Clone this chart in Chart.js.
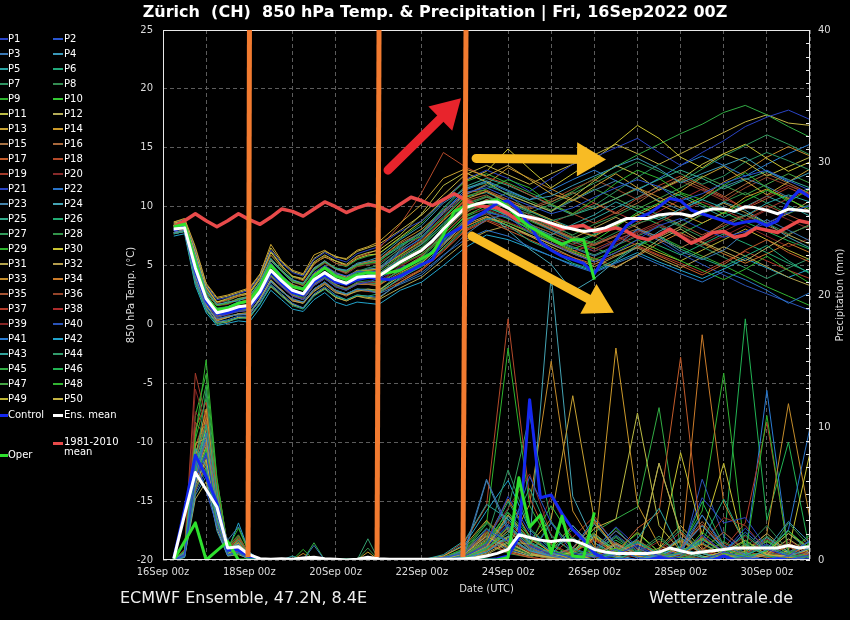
<!DOCTYPE html>
<html>
<head>
<meta charset="utf-8">
<title>Zürich 850 hPa Temp. & Precipitation</title>
<script src="https://cdn.jsdelivr.net/npm/chart.js@4.4.0/dist/chart.umd.min.js"></script>
<style>
html, body { margin: 0; padding: 0; background: #000; }
#wrap { position: relative; width: 850px; height: 620px; overflow: hidden; font-family: "DejaVu Sans", sans-serif; color: #fff; }
#c { position: absolute; left: 0; top: 0; }
.title { position: absolute; left: 0; top: 2px; width: 870px; text-align: center; font-weight: bold; font-size: 16px; line-height: 20px; white-space: pre; }
.foot { position: absolute; top: 588px; font-size: 16px; line-height: 20px; color: #eee; }
.lg { position: absolute; font-size: 10px; line-height: 12px; white-space: pre; color: #fff; }
.sw { position: absolute; }
</style>
</head>
<body>
<div id="wrap">
  <canvas id="c" width="850" height="620"></canvas>
  <div class="title">Zürich  (CH)  850 hPa Temp. &amp; Precipitation | Fri, 16Sep2022 00Z</div>
  <div id="legend"></div>
  <div class="foot" style="left:120px">ECMWF Ensemble, 47.2N, 8.4E</div>
  <div class="foot" style="right:57px">Wetterzentrale.de</div>
</div>
<script>
// forecast hours after 16Sep2022 00Z
const mainHours = [6,12,18,24,30,36,42,48,54,60,66,72,78,84,90,96,102,108,114,120,
  126,132,138,144,150,156,162,168,174,180,186,192,198,204,210,216,222,228,234,240,
  246,252,258,264,270,276,282,288,294,300,306,312,318,324,330,336,342,348,354,360];
const memberHours = [6,12,18,24,30,36,42,48,54,60,66,72,78,84,90,96,102,108,114,120,
  132,144,156,168,180,192,204,216,228,240,252,264,276,288,300,312,324,336,348,360];
const xTickLabels = ['16Sep 00z','','18Sep 00z','','20Sep 00z','','22Sep 00z','','24Sep 00z','',
  '26Sep 00z','','28Sep 00z','','30Sep 00z',''];

const climTemp = [8.3,8.8,9.4,8.8,8.3,8.8,9.4,8.9,8.5,9.1, 9.8,9.6,9.2,9.8,10.4,10.0,9.5,9.9,10.2,10.0,
  9.6,10.2,10.8,10.5,10.1,10.6,11.1,10.6,10.1,10.0, 9.9,9.4,8.8,9.1,8.9,8.5,8.1,8.3,8.4,7.9,
  8.0,8.2,7.9,7.4,7.2,7.6,8.1,7.5,6.9,7.3, 7.8,7.9,7.4,7.6,8.2,8.0,7.8,8.3,8.8,8.6];
const meanTemp = [8.1,8.2,4.8,2.2,1.0,1.2,1.5,1.6,2.8,4.6, 3.7,2.9,2.6,3.8,4.4,3.8,3.5,4.0,4.1,4.1,
  4.7,5.3,5.8,6.3,7.1,8.1,9.0,9.9,10.2,10.4, 10.4,9.9,9.3,9.1,8.9,8.6,8.3,8.1,7.9,8.0,
  8.2,8.6,9.0,9.0,9.0,9.3,9.4,9.4,9.2,9.6, 9.8,9.8,9.6,10.0,9.9,9.7,9.4,9.8,9.7,9.6];
const controlTemp = [8.0,8.3,4.6,2.0,0.9,1.0,1.3,1.5,2.6,4.5, 3.5,2.7,2.5,3.6,4.2,3.6,3.4,3.8,4.0,3.9,
  3.8,4.1,4.6,5.1,5.5,7.4,7.9,8.4,9.1,9.7, 10.3,10.5,9.7,8.4,7.0,6.3,5.8,5.5,5.2,4.3,
  5.8,7.2,8.4,9.0,9.4,10.0,10.7,10.5,9.7,9.4, 9.1,8.8,8.5,8.7,8.8,8.4,8.8,10.4,11.4,10.8];
const operTemp = [8.3,8.5,5.2,2.3,1.2,1.4,1.8,2.0,3.2,5.0, 4.0,3.2,3.0,4.1,4.8,4.1,3.8,4.2,4.4,4.3,
  4.4,4.6,5.1,5.6,6.1,7.6,9.6,10.0,10.2,10.4, 10.6,10.0,9.0,8.3,7.8,7.3,6.8,7.2,7.2,3.8];

const meanPrecip = [0.1,3.4,6.6,5.3,4.0,0.9,1.0,0.4,0.1,0.05, 0.1,0.05,0.15,0.2,0.1,0.05,0,0.05,0.2,0.1,
  0.05,0.05,0.05,0.05,0.05,0.05,0.05,0.1,0.15,0.3, 0.5,0.8,1.9,1.7,1.5,1.4,1.5,1.5,1.2,0.8,
  0.6,0.5,0.5,0.5,0.5,0.6,0.9,0.7,0.5,0.6, 0.7,0.8,0.9,0.9,0.9,0.9,0.9,1.1,0.9,1.0];
const controlPrecip = [0.1,3.8,7.9,6.3,4.3,0.8,0.75,0.3,0,0, 0,0,0,0,0,0,0,0,0,0,
  0,0,0,0,0,0,0,0,0,0, 0.1,0.3,1.7,12.1,4.7,4.9,3.5,2.3,1.5,0.5,
  0.1,0,0,0,0,0.2,0,0,0,0, 0,0.3,0,0,0,0,0.1,0,0,0];
const operPrecip = [0,1.4,2.8,0,0.7,1.4,0,0,0,0, 0,0,0,0,0,0,0,0,0,0,
  0,0,0,0,0,0,0,0,0,0, 0,0.2,6.2,2.5,3.4,0.5,3.3,0.3,0.2,3.6];

const memberNames = Array.from({length: 50}, (_, i) => 'P' + (i + 1));
const memberColors = [
  '#2a44c8','#2a56d0','#3a78b4','#3a98b8','#2aa4a4','#22aa7c','#2e9462','#348c52','#2eb42e','#34c834',
  '#bcbc44','#b4ac58','#c8a232','#cc9a2a','#a87244','#a8683c','#c45c2a','#b44a2a','#a43a2a','#862a2a',
  '#2a44c4','#2a74c8','#4484ac','#44a4b4','#32ac8c','#22ac74','#329c5c','#32944a','#2eb42e','#cac432',
  '#b4a44c','#b49c4c','#c48c2a','#cc7c2a','#a85434','#94442a','#b43c2a','#ac2c2c','#862424','#2a54b8',
  '#2a7cd4','#22a4cc','#32a49c','#329c6c','#32ac44','#22b454','#44a444','#32b432','#bcb432','#c4b444'];

// one row per member, values at memberHours
const memberTemp = [
  [8.0,8.2,4.3,1.8,0.6,0.9,1.1,1.2,2.4,4.0,3.2,2.4,2.1,3.3,3.9,3.2,2.9,3.4,3.6,3.9, 4.8,5.6,7.0,8.6,9.5,9.1,7.8,6.9,6.0,5.3,6.1,7.2,8.4,9.0,8.1,7.4,7.9,8.6,9.5,10.1],
  [8.3,8.5,5.3,2.6,1.2,1.5,1.9,2.0,3.3,5.2,4.2,3.3,3.1,4.4,5.0,4.4,4.1,4.5,4.4,4.6, 6.1,7.4,9.6,11.2,11.6,10.8,10.1,9.4,9.9,10.8,11.6,12.3,11.7,10.5,11.1,12.0,12.6,13.1,12.2,11.4],
  [7.8,8.0,3.9,1.5,0.5,0.7,0.8,0.9,2.0,3.6,2.8,2.2,1.9,3.0,3.6,2.9,2.6,3.0,2.9,2.6, 3.4,4.2,5.8,7.6,8.9,9.4,8.6,7.3,6.5,5.8,6.6,8.1,7.4,6.2,5.5,6.3,7.8,8.9,8.0,7.1],
  [8.4,8.6,5.8,2.9,1.7,1.9,2.0,2.4,3.6,5.6,4.6,3.8,3.5,4.8,5.4,4.7,4.6,5.2,5.4,5.7, 7.2,8.4,10.3,11.5,12.2,11.4,10.6,10.9,11.8,12.6,13.4,14.1,13.2,12.0,12.8,13.5,14.2,13.0,12.1,12.9],
  [8.1,8.3,4.7,2.1,1.1,1.3,1.4,1.7,2.9,4.5,3.8,2.8,2.7,3.7,4.5,3.9,3.4,4.1,4.2,4.3, 5.6,6.8,8.6,10.3,10.0,9.2,8.4,7.6,8.5,9.3,10.4,9.6,8.9,9.8,10.6,9.9,9.2,10.3,11.0,10.4],
  [7.7,7.9,3.5,1.2,0.0,0.3,0.5,0.6,1.7,3.3,2.4,1.6,1.3,2.4,3.0,2.4,2.1,2.5,2.4,2.6, 4.0,4.9,6.4,8.1,9.0,8.4,7.1,6.3,5.2,4.6,5.5,6.8,7.5,6.4,5.6,4.9,5.8,6.7,5.4,4.3],
  [8.3,8.4,5.1,2.4,1.4,1.5,1.7,2.0,3.1,5.0,4.0,3.2,3.0,4.2,4.8,4.2,3.9,4.5,4.8,5.0, 6.5,7.9,9.8,11.6,12.0,11.0,9.6,8.8,9.3,10.1,11.3,12.5,13.6,12.8,11.9,12.6,13.8,14.6,13.9,13.1],
  [8.0,8.2,4.5,1.9,0.8,0.9,1.2,1.3,2.6,4.2,3.4,2.6,2.3,3.5,4.0,3.3,3.0,3.6,3.7,3.6, 4.5,5.7,7.8,9.6,10.3,9.9,9.4,8.6,7.5,6.9,7.8,8.6,9.1,8.3,7.4,8.2,9.3,8.6,7.7,8.4],
  [8.4,8.7,5.7,2.8,1.6,1.8,2.1,2.3,3.5,5.6,4.5,3.7,3.4,4.6,5.3,4.8,4.5,5.0,5.2,5.3, 6.8,7.5,9.0,10.8,11.5,12.3,11.6,10.2,9.4,10.6,12.0,13.1,12.4,11.2,10.6,11.8,12.9,11.6,10.4,11.5],
  [8.1,8.3,4.9,2.3,0.9,1.1,1.5,1.6,2.7,4.7,3.6,2.9,2.5,3.9,4.3,3.7,3.6,3.9,4.0,4.0, 5.1,6.0,7.4,9.2,10.1,9.3,8.0,7.2,6.4,7.1,8.3,9.5,10.3,11.1,10.2,9.4,10.5,11.4,10.6,9.8],
  [8.6,8.8,6.1,3.2,1.9,2.2,2.5,2.7,4.0,6.1,5.0,4.1,3.9,5.3,5.9,5.4,5.1,5.8,6.1,6.3, 7.6,9.4,11.8,12.9,12.1,11.0,10.3,9.6,10.8,12.2,13.5,12.7,11.4,12.3,13.6,14.5,13.8,12.6,13.4,14.2],
  [7.8,8.0,4.0,1.7,0.3,0.6,0.9,0.8,2.2,3.8,2.9,2.0,1.8,2.8,3.4,2.7,2.5,2.8,3.0,2.9, 4.1,5.2,6.9,8.5,9.2,8.4,7.6,6.8,6.1,5.4,4.8,5.9,7.2,8.1,7.0,6.2,5.4,6.5,7.6,6.8],
  [8.7,9.0,6.6,3.5,2.3,2.5,2.8,3.1,4.3,6.8,5.4,4.6,4.3,5.9,6.3,5.7,5.6,6.3,6.6,7.0, 8.6,10.2,12.4,13.2,12.6,13.5,12.3,11.1,10.5,11.7,12.8,11.6,10.4,11.3,12.5,13.4,12.2,11.0,12.1,13.2],
  [8.2,8.5,5.2,2.6,1.3,1.4,1.9,2.1,3.3,5.2,4.1,3.4,3.1,4.3,4.9,4.4,4.0,4.6,4.6,4.7, 5.9,7.1,8.8,10.6,11.3,10.4,9.7,8.9,8.0,7.5,8.4,9.3,10.2,9.4,8.6,9.5,10.8,11.5,10.7,9.6],
  [8.0,8.2,4.4,1.9,0.7,0.9,1.3,1.2,2.5,4.1,3.3,2.5,2.1,3.4,4.0,3.4,3.0,3.5,3.4,3.3, 4.7,5.8,7.6,9.4,10.6,10.2,9.0,8.1,7.3,6.7,7.5,8.1,7.2,6.5,7.4,8.6,9.3,8.4,7.6,8.5],
  [8.4,8.6,5.6,2.8,1.6,1.9,2.1,2.3,3.4,5.5,4.6,3.7,3.3,4.8,5.3,4.7,4.4,5.0,5.3,5.5, 6.9,7.8,9.5,11.2,11.4,10.6,9.8,10.4,11.2,10.3,9.4,10.3,11.5,12.4,11.6,10.8,11.9,12.8,12.0,11.1],
  [7.8,8.0,3.8,1.6,0.4,0.6,0.9,0.9,2.1,3.6,2.9,2.1,1.8,2.9,3.5,2.8,2.4,2.9,2.8,2.7, 3.6,4.6,6.2,7.9,8.8,8.0,7.2,6.4,5.7,5.1,5.9,6.6,5.8,5.0,4.2,5.1,6.3,7.2,6.1,5.3],
  [8.6,8.8,6.0,3.1,1.8,2.1,2.4,2.7,3.9,5.9,4.9,4.1,3.7,5.1,5.8,5.2,5.0,5.7,6.0,6.4, 8.5,11.2,14.6,13.4,12.5,11.9,11.0,10.2,9.4,8.6,9.5,10.7,11.8,12.6,11.8,10.9,9.8,10.7,11.6,10.8],
  [8.1,8.3,4.8,2.2,1.0,1.2,1.6,1.5,2.8,4.6,3.7,2.9,2.6,3.8,4.4,3.8,3.5,4.0,4.2,4.2, 5.4,6.4,8.0,9.6,10.1,9.4,8.5,7.8,7.0,6.4,7.2,7.9,8.7,9.6,10.4,9.7,8.9,9.8,10.7,11.4],
  [8.0,8.1,4.4,1.8,0.7,0.8,1.2,1.3,2.4,4.1,3.2,2.4,2.2,3.3,3.9,3.3,3.1,3.5,3.5,3.6, 5.0,5.9,7.3,8.8,9.4,8.7,8.0,7.4,6.8,6.2,7.0,7.8,8.5,7.7,7.0,7.9,8.8,9.7,8.9,8.1],
  [8.6,8.9,6.3,3.3,2.1,2.3,2.6,2.9,4.1,6.3,5.2,4.4,4.1,5.5,6.1,5.6,5.3,6.0,6.3,6.6, 7.9,8.8,10.4,12.3,13.1,12.4,11.3,12.4,13.6,14.2,15.0,15.8,14.6,13.5,14.6,15.6,16.8,17.6,18.2,17.4],
  [7.7,7.9,3.7,1.4,0.2,0.4,0.7,0.7,1.8,3.4,2.6,1.8,1.4,2.6,3.2,2.5,2.1,2.5,2.4,2.3, 3.5,4.4,5.9,7.2,8.0,7.5,6.6,5.8,5.0,4.4,5.2,5.9,5.1,4.3,3.6,4.5,3.8,2.9,1.8,2.7],
  [8.3,8.4,5.3,2.5,1.2,1.5,1.8,1.9,3.2,5.1,4.0,3.3,3.0,4.2,4.9,4.3,4.1,4.5,4.7,4.8, 6.3,7.7,9.4,11.0,11.8,11.1,10.3,9.6,10.5,11.4,12.2,11.4,10.5,9.7,10.6,11.7,12.4,11.7,10.8,11.6],
  [7.8,8.0,4.1,1.6,0.4,0.7,0.9,0.9,2.2,3.7,2.9,2.1,1.9,3.0,3.6,2.8,2.6,3.0,2.9,2.7, 3.9,5.0,6.7,8.8,9.6,8.0,6.4,5.1,2.8,3.9,5.4,6.6,7.9,8.8,9.5,10.4,9.7,8.6,7.4,6.5],
  [8.4,8.6,5.5,2.9,1.7,1.8,2.2,2.3,3.5,5.4,4.5,3.6,3.4,4.7,5.3,4.8,4.4,5.1,5.2,5.4, 6.6,7.8,9.9,11.7,12.4,11.8,11.0,10.1,9.3,9.9,10.7,11.5,12.3,13.1,12.4,11.5,12.3,13.0,12.3,11.6],
  [8.0,8.2,4.3,1.9,0.8,1.0,1.2,1.4,2.5,4.2,3.3,2.6,2.2,3.4,4.0,3.4,3.0,3.5,3.5,3.5, 4.6,5.5,7.1,8.9,9.6,9.0,8.2,7.5,6.8,7.6,8.4,7.5,6.7,5.9,6.8,7.7,6.9,6.1,5.2,4.4],
  [8.2,8.3,4.8,2.1,1.0,1.3,1.5,1.7,2.8,4.7,3.6,2.9,2.7,3.8,4.3,3.9,3.5,4.0,4.1,4.2, 5.5,6.6,8.4,10.1,10.8,10.3,9.5,10.2,11.1,12.0,12.9,13.8,13.0,12.1,13.2,14.3,15.2,16.1,15.3,14.4],
  [8.3,8.5,5.1,2.5,1.3,1.5,1.8,2.0,3.1,5.0,4.1,3.2,2.9,4.2,4.8,4.2,3.9,4.4,4.6,4.7, 5.9,7.0,8.5,10.2,10.9,10.2,9.1,8.3,7.6,8.5,9.2,10.1,9.3,8.4,9.3,10.4,11.2,10.3,9.4,10.2],
  [7.8,8.1,4.0,1.5,0.4,0.6,0.9,1.0,2.1,3.7,2.8,2.1,1.8,2.9,3.5,2.9,2.6,2.9,2.9,2.8, 4.2,5.3,7.0,8.7,9.4,8.6,7.8,7.1,6.2,5.5,6.3,7.2,6.3,5.4,4.6,3.8,4.7,5.8,4.6,3.5],
  [8.5,8.8,6.2,3.2,1.9,2.1,2.4,2.6,3.9,6.2,5.0,4.1,3.8,5.2,5.7,5.4,5.0,5.6,5.9,6.0, 7.4,8.8,10.6,12.2,13.0,14.9,13.2,11.6,12.8,14.0,15.4,16.9,15.8,14.2,13.3,14.5,15.3,14.1,13.0,13.8],
  [7.7,7.9,3.6,1.3,0.1,0.2,0.6,0.5,1.8,3.2,2.4,1.7,1.4,2.5,3.0,2.3,2.0,2.4,2.2,2.1, 3.1,4.0,5.5,7.0,7.9,8.4,7.5,6.6,5.7,4.9,5.8,6.5,5.6,4.8,5.7,6.6,5.8,4.9,4.0,3.3],
  [8.1,8.3,4.9,2.2,1.1,1.2,1.4,1.6,2.9,4.6,3.7,3.0,2.6,3.8,4.4,3.7,3.5,4.0,4.1,4.0, 5.2,6.2,7.9,9.8,10.6,9.8,8.9,8.1,7.3,8.2,9.1,8.2,7.4,8.3,9.4,10.3,9.5,8.6,9.4,10.5],
  [8.4,8.6,5.7,2.8,1.6,1.8,2.2,2.4,3.6,5.5,4.6,3.7,3.5,4.7,5.4,4.8,4.5,5.1,5.3,5.5, 7.0,8.1,9.7,11.0,11.9,13.3,12.4,11.5,10.6,9.8,10.7,11.6,10.8,9.9,10.8,12.1,13.0,14.2,15.1,14.3],
  [8.0,8.1,4.4,1.8,0.6,0.9,1.1,1.2,2.5,4.1,3.2,2.5,2.1,3.3,3.9,3.2,2.9,3.4,3.4,3.3, 4.4,5.3,6.8,8.3,9.1,8.6,7.9,7.1,6.3,5.6,4.9,5.8,6.9,7.8,6.9,6.0,5.2,6.0,6.9,6.1],
  [8.1,8.4,4.7,2.3,1.0,1.1,1.6,1.7,2.8,4.5,3.8,2.8,2.6,3.7,4.5,3.9,3.4,3.9,4.2,4.3, 5.7,6.9,8.9,10.5,11.0,10.0,9.0,8.2,7.4,6.8,7.6,8.5,9.3,8.5,7.6,8.4,9.2,10.1,9.3,8.5],
  [8.4,8.7,5.6,2.7,1.6,1.7,2.1,2.2,3.5,5.4,4.5,3.6,3.3,4.6,5.2,4.7,4.3,4.9,5.1,5.2, 6.4,7.5,9.2,10.9,11.3,10.5,9.9,10.6,11.5,12.3,11.5,10.6,11.4,12.2,11.4,10.5,11.6,12.5,11.8,11.0],
  [7.8,8.0,3.9,1.6,0.5,0.6,0.9,1.0,2.1,3.7,2.9,2.0,1.8,3.0,3.5,2.9,2.5,2.9,2.9,2.8, 3.8,4.7,6.3,8.0,8.9,8.2,7.5,6.9,6.2,6.8,7.5,6.7,5.9,5.2,4.4,5.3,6.2,5.4,4.6,3.9],
  [8.3,8.5,5.2,2.5,1.3,1.5,1.8,1.9,3.2,5.1,4.1,3.3,3.0,4.3,4.8,4.3,4.0,4.5,4.6,4.6, 6.0,7.2,8.9,10.4,10.8,10.1,9.3,8.6,9.4,10.3,9.5,8.7,9.6,10.6,11.5,10.7,9.9,10.9,11.8,11.1],
  [8.0,8.2,4.5,1.9,0.7,0.9,1.2,1.3,2.4,4.2,3.3,2.5,2.3,3.4,4.0,3.3,3.1,3.5,3.6,3.5, 4.9,6.0,7.7,9.3,9.8,9.1,8.3,7.6,8.3,7.5,6.8,7.6,8.4,7.6,6.7,7.5,8.4,7.5,6.6,7.3],
  [8.1,8.3,4.8,2.2,1.0,1.2,1.5,1.6,2.7,4.6,3.7,2.9,2.6,3.8,4.4,3.8,3.6,4.1,4.0,4.1, 5.3,6.3,8.2,9.9,10.5,9.8,8.9,8.0,7.1,6.2,7.1,8.0,7.1,6.0,5.1,4.2,3.3,2.6,1.9,1.2],
  [8.4,8.6,5.6,2.8,1.7,1.8,2.1,2.3,3.6,5.5,4.6,3.8,3.4,4.7,5.3,4.8,4.6,5.1,5.3,5.5, 6.7,7.9,9.6,11.4,12.1,11.3,10.6,11.4,12.3,13.1,12.2,11.4,12.4,13.5,14.3,13.5,12.6,13.6,14.5,15.3],
  [7.5,7.7,3.3,1.0,-0.1,0.1,0.3,0.2,1.4,2.9,2.1,1.3,1.1,2.1,2.7,1.9,1.6,1.9,1.8,1.7, 2.9,3.6,5.0,6.5,7.6,7.2,6.5,5.8,5.1,4.5,5.3,6.1,5.3,4.6,3.9,4.7,5.6,4.8,4.0,4.7],
  [8.3,8.4,5.2,2.5,1.3,1.5,1.8,1.9,3.1,5.0,4.1,3.2,3.0,4.2,4.9,4.2,4.0,4.4,4.6,4.7, 6.2,7.3,9.1,10.8,11.2,10.4,9.6,8.9,8.2,9.0,9.9,10.8,11.7,10.9,10.0,9.1,10.0,10.9,10.1,9.2],
  [7.8,8.0,4.1,1.6,0.4,0.6,0.9,1.0,2.2,3.7,2.9,2.1,1.9,3.0,3.6,2.9,2.6,3.0,3.0,2.9, 4.3,5.4,7.2,8.9,9.7,9.0,8.1,7.3,6.6,5.9,6.7,7.5,8.3,7.4,6.6,5.7,4.8,3.9,4.8,5.6],
  [8.5,8.7,6.0,3.0,1.9,2.0,2.4,2.6,3.8,5.9,4.8,4.0,3.8,5.1,5.8,5.2,4.9,5.5,5.8,6.0, 7.3,8.6,10.5,12.1,12.8,12.0,11.2,10.4,11.3,12.4,13.4,14.4,15.3,16.2,17.0,18.0,18.6,17.8,16.8,15.9],
  [8.0,8.2,4.4,1.9,0.7,1.0,1.2,1.3,2.5,4.1,3.3,2.5,2.2,3.4,3.9,3.3,3.1,3.4,3.5,3.4, 4.6,5.7,7.4,9.1,9.9,9.3,8.5,7.8,7.0,7.7,8.5,9.3,8.5,7.7,8.6,9.5,8.7,7.9,7.1,6.4],
  [8.1,8.3,4.8,2.2,1.0,1.3,1.4,1.7,2.8,4.7,3.7,2.8,2.6,3.8,4.4,3.8,3.5,4.1,4.1,4.2, 5.5,6.5,8.0,9.7,10.4,11.2,10.5,9.7,10.6,11.5,10.7,9.8,10.7,11.6,12.6,11.8,11.0,11.9,12.8,12.0],
  [8.2,8.4,5.1,2.4,1.2,1.4,1.8,1.9,3.1,5.0,4.0,3.3,2.9,4.1,4.8,4.2,3.9,4.4,4.5,4.5, 5.8,6.8,8.3,9.8,10.3,9.6,8.8,8.0,7.2,6.5,5.8,6.6,7.5,6.6,5.8,5.0,4.1,3.2,2.4,1.6],
  [7.7,7.9,3.6,1.3,0.2,0.3,0.6,0.6,1.8,3.3,2.5,1.7,1.4,2.5,3.1,2.3,2.0,2.4,2.3,2.2, 3.6,4.7,6.5,8.3,9.1,8.4,7.6,6.8,6.0,5.3,6.1,6.9,6.1,5.4,6.3,7.2,8.1,7.2,6.3,5.5],
  [8.7,8.9,6.4,3.4,2.2,2.4,2.7,3.0,4.2,6.5,5.3,4.5,4.2,5.6,6.2,5.8,5.5,6.2,6.5,6.8, 8.0,9.3,11.0,12.7,13.5,12.7,11.9,12.8,13.6,14.4,15.3,14.5,13.6,14.5,15.4,16.3,17.2,17.8,17.1,16.9]
];

const memberPrecip = [
  [0,0.4,6.2,8.1,3.4,0.6,0.9,0.2,0,0,0,0,0,0,0,0,0,0,0,0, 0,0,0,0.3,1.2,4.8,2.1,0.6,0.2,0,0.4,1.1,0.3,0,0,0.6,2.4,0.8,0.3,1.5],
  [0,0.3,7.5,5.2,2.6,0.4,0.6,0.1,0,0,0,0,0,0,0,0,0,0,0,0, 0,0,0.2,0.5,2.3,1.4,6.3,2.8,0.5,0.2,0.8,0.2,0,0.3,1.9,0.6,0.2,0,0,0.4],
  [0,0.5,5.8,9.6,4.1,0.8,1.2,0.3,0,0,0,0,0,1.1,0,0,0,0,0,0, 0,0,0,0.8,6.1,2.5,1.0,0.3,0,0.6,2.2,0.9,0.2,0.5,3.4,1.1,0.4,0,0.3,0.9],
  [0,0.2,4.9,6.3,2.2,0.3,0.5,0,0,0,0,0,0,0,0,0,0,0,0,0, 0,0,0,0.1,0.6,1.8,0.7,0.3,2.6,0.9,0.2,0,0.4,1.7,0.5,0,0,0.8,2.9,1.3],
  [0,0.6,8.4,7.1,3.0,1.0,0.7,0.2,0,0,0,0.3,0,0,0,0,0,0,0.2,0, 0,0,0.4,1.5,4.2,3.1,1.3,0.5,0.2,0,0.5,1.6,3.9,0.7,0.2,0,0.4,1.0,0.3,0],
  [0,0.3,6.6,10.2,5.3,0.5,1.5,0.4,0,0,0,0,0,0,0,0,0,0,0,0, 0,0,0,0.2,0.9,2.0,5.4,1.8,0.6,0.3,0,0.7,0.2,0.5,1.4,4.6,1.2,0.3,0,0],
  [0,0.4,7.0,12.8,4.6,0.7,1.1,0.2,0,0,0,0,0,0,0,0,0,0,0,0, 0,0,0,0.4,1.6,6.8,2.4,0.9,1.7,0.5,0.2,0,0.8,2.3,0.6,0,0.3,1.1,0.4,0.2],
  [0,0.2,5.4,6.8,2.9,0.4,0.6,0.1,0,0,0,0,0,0,0,0,0,0,0,0, 0,0,0.2,0.6,2.8,1.1,0.4,2.9,0.8,0.3,0.1,0.6,1.8,0.4,0,0.2,0.9,2.6,0.7,0.2],
  [0,0.7,9.3,15.1,6.2,0.9,2.4,0.5,0,0,0,0,0.8,0,0,0,0,0,0,0, 0,0,0,0.3,1.4,3.6,1.8,0.7,0.3,0,0.6,1.4,0.5,0.2,2.1,0.8,0.3,10.9,0.5,1.2],
  [0,0.3,6.1,8.4,3.6,0.6,0.8,0.2,0,0,0,0,0,0,0,0,0,0,0,0, 0,0,0,0.2,0.8,2.5,1.2,4.1,1.5,0.4,0.9,0.2,0,0.6,1.6,0.5,0.2,0.7,2.2,0.8],
  [0,0.4,5.7,7.6,3.3,0.5,0.9,0.2,0,0,0,0,0,0,0,0,0,0,0,0, 0,0,0,0.5,1.8,0.9,0.4,0.2,0.6,2.4,3.1,11.1,2.6,0.7,0.2,0.6,1.5,0.4,0.3,0.8],
  [0,0.2,4.6,5.9,2.4,0.3,0.4,0.1,0,0,0,0,0,0,0,0,0,0,0,0, 0,0,0,0.1,0.4,1.3,0.5,0.2,0,0.3,1.2,0.4,7.3,2.0,0.5,0.2,0,0.4,1.6,0.5],
  [0,0.5,8.8,9.2,4.3,0.8,1.3,0.3,0,0,0,0,0,0,0,0,0,0,0.6,0, 0,0,0.3,1.1,3.0,1.4,1.2,3.1,12.4,3.0,0.8,0.3,0,0.5,1.2,0.4,0,0.6,2.0,0.9],
  [0,0.4,7.8,11.4,5.1,0.6,1.0,0.2,0,0,0,0,0,0,0,0,0,0,0,0, 0,0,0,0.2,1.0,3.4,1.6,0.6,0,0.5,16.0,4.2,1.1,0.4,0,0.3,1.0,0.4,0.2,0],
  [0,0.3,6.4,8.9,3.8,0.5,0.8,0.2,0,0,0,0,0,0,0,0,0,0,0,0, 0,0,0,0.3,0.7,2.2,0.9,0.3,0.9,2.8,1.0,0.2,0,0.6,1.7,0.5,0.1,0.5,1.3,0.4],
  [0,0.4,7.3,10.5,4.4,0.7,1.2,0.3,0,0,0,0,0,0,0,0,0,0,0,0, 0,0,0.2,0.6,1.9,1.0,0.4,0.1,0,0.4,1.3,0.5,0.2,0.9,2.9,1.0,0.3,0,0.4,1.1],
  [0,0.3,5.2,7.4,2.8,0.4,0.7,0.1,0,0,0,0,0,0,0,0,0,0,0,0, 0,0,0,0.4,1.2,0.6,0.2,0,0.5,1.6,0.5,2.4,3.6,15.3,0.9,0.3,0,0.4,1.0,0.3],
  [0,0.6,9.9,11.9,5.6,0.9,1.6,0.4,0,0,0,0,0,0,0,0,0,0,0,0, 0,0,0.3,1.4,4.1,18.2,4.7,1.2,0.4,0,0.6,1.5,0.5,0.2,0.8,2.1,0.7,0.2,0,0.5],
  [0,0.8,14.1,10.7,5.8,1.1,1.8,0.4,0,0,0,0,0,0,0,0,0,0,0,0, 0,0,0,0.2,0.8,1.5,0.6,0.2,0,0.3,0.9,0.3,0,0.4,1.2,3.2,2.6,0.7,0.2,0],
  [0,0.5,11.2,9.8,4.9,0.8,1.4,0.3,0,0,0,0,0,0,0,0,0,0,0,0, 0,0,0.2,0.6,1.7,3.9,6.5,1.9,0.6,0.2,0,0.5,1.4,0.4,0.1,0.6,1.8,0.5,0.2,0.7],
  [0,0.3,5.6,7.9,3.2,0.5,0.7,0.2,0,0,0,0,0,0,0,0,0,0,0,0, 0,0,0,0.3,1.0,2.6,1.1,0.4,0.1,0.8,2.5,1.0,0.3,0.7,4.7,2.8,3.2,0.9,0.3,0.6],
  [0,0.4,6.9,9.1,4.0,0.6,1.0,0.2,0,0,0,0,0,0,0,0,0,0,0,0, 0,0,0,0.2,0.6,1.6,0.7,0.2,0.9,3.1,1.2,0.4,0.1,0.5,1.5,0.6,2.1,0.7,2.3,10.0],
  [0,0.5,7.7,8.7,3.9,1.5,2.5,0.6,0,0,0,0,0,0,0,0,0,0,0,0, 0,0,0.1,0.5,6.0,2.2,0.8,0.3,0,0.4,1.1,0.4,0.2,0.8,2.6,0.9,0.3,0,0.6,1.4],
  [0,0.3,5.9,7.2,3.1,0.4,0.6,0.1,0,0,0,0,0,0,0,0,0,0,0.1,0, 0,0,0,0.2,0.9,3.3,1.3,21.5,4.8,1.3,0.4,0,0.3,1.0,0.3,0,0.5,1.7,0.6,0.2],
  [0,0.4,7.1,9.5,4.2,0.7,1.1,0.3,0,0,0,0,0,0,0,0,0,0,0,0, 0,0,0.2,0.7,2.4,1.0,0.4,0.1,0.6,1.9,0.7,0.2,0,0.5,1.3,0.4,0.1,0.6,2.0,0.7],
  [0,0.5,8.1,10.3,4.7,0.8,1.4,0.3,0,0,0,0,0,0,0,0,0,0,0,0, 0,0,0,0.4,1.3,4.4,1.7,0.6,0.2,0,0.6,1.5,0.5,0.2,0,0.7,1.9,0.6,0.2,0.9],
  [0,0.4,6.5,8.2,3.5,0.5,0.9,0.2,0,0,0,0,0,0,0,0,0,0,0,0, 0,0,0,0.3,1.1,3.8,10.9,2.9,0.8,0.2,0,0.5,1.6,0.5,0.1,0.4,1.2,0.4,0,0.3],
  [0,0.3,5.3,6.9,2.7,0.4,0.6,0.1,0,0,0,0,0,0,0,0,0,0,0.9,0, 0,0,0.1,0.3,0.9,2.2,0.9,0.3,0.1,0.6,1.8,0.6,0.2,0,0.5,1.4,0.5,0.2,2.8,1.0],
  [0,0.6,9.1,12.2,5.4,0.9,1.7,0.4,0,0,0,0,0,0,0,0,0,0,0,0, 0,0,0.2,0.8,2.7,16.0,4.1,1.1,0.3,0,0.7,2.0,0.6,0.2,0,0.5,1.4,0.4,0.1,0.6],
  [0,0.4,6.8,9.9,4.5,0.7,1.3,0.3,0,0,0,0,0,0,0,0,0,0,0,0, 0,0,0,0.2,0.7,1.8,0.7,0.2,0.5,1.7,0.6,2.1,0.6,8.1,1.9,7.3,0.5,0.2,0.7,8.1],
  [0,0.3,5.5,7.0,3.0,0.4,0.7,0.1,0,0,0,0,0,0,0,0,0,0,0,0, 0,0,0,0.1,0.5,1.4,0.5,0.2,0,0.4,1.3,0.4,0.1,0.5,1.6,0.6,0.2,0,0.4,1.1],
  [0,0.4,6.3,8.6,3.7,0.6,0.9,0.2,0,0,0,0,0,0,0,0,0,0,0,0, 0,0,0.2,0.5,1.6,0.7,0.3,0.9,2.6,0.8,0.3,0,0.5,1.5,0.5,0.2,0.7,2.0,0.6,0.2],
  [0,0.5,7.9,10.8,4.8,0.8,1.5,0.3,0,0,0,0,0.5,0,0,0,0,0,0,0, 0,0,0.1,0.6,2.0,1.0,4.2,15.0,3.7,1.0,0.3,0,0.5,1.4,0.5,0.2,0.6,2.0,11.8,3.1],
  [0,0.4,7.2,9.4,4.1,0.7,1.1,0.2,0,0,0,0,0,0,0,0,0,0,0,0, 0,0,0,0.4,1.5,4.6,1.8,0.5,0.2,0,0.6,1.2,0.4,0.2,17.0,4.3,1.2,0.4,0,0.3],
  [0,0.3,6.0,7.8,3.3,0.5,0.8,0.2,0,0,0,0,0,0,0,0,0,0,0,0, 0,0,0,0.2,0.8,2.4,1.0,0.3,0.1,0.7,2.2,0.8,0.3,0,0.5,1.3,0.4,1.6,0.6,0.2],
  [0,0.5,8.5,11.1,5.0,0.8,1.4,0.3,0,0,0,0,0,0,0,0,0,0,0,0, 0,0,0.2,0.7,2.2,1.0,0.4,0.2,0.8,2.9,1.0,0.3,0,0.6,1.8,0.6,0.2,0,0.5,1.7],
  [0,0.6,10.4,9.3,4.6,1.0,1.6,0.4,0,0,0,0,0,0,0,0,0,0,0,0, 0,0,0,0.3,1.1,2.9,1.2,0.4,1.7,3.3,1.1,0.4,0.2,0.9,2.7,0.9,2.8,10.4,0.7,0.2],
  [0,0.4,7.4,8.3,3.7,0.6,1.0,0.2,0,0,0,0,0,0,0,0,0,0,0,0, 0,0,0.1,0.4,1.3,0.6,0.2,0,0.5,1.5,0.5,0.2,0.7,2.1,0.7,0.2,0,0.4,1.3,0.4],
  [0,0.7,12.9,10.1,5.2,0.9,1.5,0.3,0,0,0,0,0,0,0,0,0,0,0,0, 0,0,0,0.2,0.9,2.4,0.9,4.8,1.6,0.5,0.2,0,0.6,1.7,0.6,0.2,0,0.5,1.5,0.5],
  [0,0.3,5.1,6.6,2.8,0.4,0.6,0.1,0,0,0,0,0,0,0,0,0,0,0,0, 0,0,0,0.3,1.0,2.7,1.1,0.4,0.1,0.6,1.9,0.7,0.2,0,6.1,1.8,0.5,1.2,0.4,0.1],
  [0,0.4,6.7,9.0,3.9,0.6,1.0,0.2,0,0,0,0,0,0,0,0,0,0,0,0, 0,0,0.2,0.6,1.8,0.8,0.3,2.8,0.9,0.3,0.5,1.4,0.4,0.9,3.4,0.9,0.3,12.8,0.6,0.2],
  [0,0.5,7.6,9.7,4.3,0.7,2.8,0.6,0,0,0,0,0,0,0,0,0,0,0,0, 0,0,0.3,1.2,3.7,6.0,2.3,0.8,0.2,0,0.5,1.3,0.4,0.9,2.6,0.8,0.3,0,0.4,1.2],
  [0,0.4,6.2,8.0,3.4,0.5,0.9,0.2,0,0,0,0,0,0,0,0,0,0,0,0, 0,0,0,0.3,1.0,3.1,1.2,0.4,0.9,2.7,0.9,0.3,0,0.5,1.6,0.6,0.2,0.7,2.2,0.7],
  [0,0.5,8.0,10.0,4.5,0.8,1.3,0.3,0,0,0,0,0,0,0,0,0,0,1.6,0, 0,0,0.1,0.4,1.4,3.6,1.4,0.5,0.2,0.6,1.7,0.5,0.2,0,0.7,2.1,0.7,0.2,0.5,1.4],
  [0,0.6,9.6,13.2,5.9,1.0,1.8,0.4,0,0,0,0,0,1.3,0,0,0,0,0,0, 0,0,0.2,0.9,2.9,1.2,0.5,0.2,0.7,2.1,3.1,4.0,11.5,0.9,0.3,0,0.5,1.5,0.5,1.9],
  [0,0.4,6.6,8.5,3.6,0.6,0.9,0.2,0,0,0,0,0,0,0,0,0,0,0,0, 0,0,0,0.2,0.8,2.2,0.8,0.3,0,0.5,1.5,0.5,0.2,0.6,4.4,1.1,18.2,3.0,8.9,0.6],
  [0,0.3,5.7,7.5,3.2,0.5,0.8,0.2,0,0,0,0,0,0,0,0,0,0,0,0, 0,0,0.1,0.4,1.2,0.5,0.2,0.8,2.3,0.8,0.3,0,0.5,1.6,0.5,0.2,0.6,1.8,0.6,0.2],
  [0,0.7,10.9,14.0,6.1,1.0,1.9,0.4,0,0,0,0,0,0,0,0,0,0,0,0, 0,0,0,0.3,1.2,3.4,1.3,0.4,0.2,0.8,2.4,0.6,0.5,1.0,3.7,14.1,0.3,1.4,0.5,0.2],
  [0,0.4,7.0,9.1,4.0,0.6,1.0,0.2,0,0,0,0,0,0,0,0,0,0,0,0, 0,0,0,0.2,0.6,1.7,0.6,0.2,0.7,2.0,0.7,0.2,7.3,2.1,0.6,0.2,0.5,1.4,0.5,1.2],
  [0,0.5,8.6,10.6,4.7,0.8,1.4,0.3,0,0,0,0,0,0,0,0,0,0,0,0, 0,0,0.2,0.7,2.1,1.0,0.4,0.1,0.6,1.8,0.6,0.2,0.9,2.6,0.8,0.3,1.1,0.4,0.2,0.5]
];

// hand-drawn marks on the image, in (hour, °C) coordinates
const orangeLines = [[48.1, 25, 47.3, -19.75], [120.2, 25, 119.1, -19.75], [168.6, 25, 166.9, -19.75]];
const arrows = [
  {from: [125.2, 13.1], to: [165.8, 19.2], color: '#e8242c'},
  {from: [174.2, 14.1], to: [246.5, 14.0], color: '#f8bb24'},
  {from: [171.9, 7.5], to: [250.9, 1.0], color: '#f8bb24'}
];

const controlColor = '#1428f0';
const operColor = '#2ee02e';
const meanColor = '#ffffff';
const climColor = '#e84a4a';
const FONT = "'DejaVu Sans', sans-serif";
Chart.defaults.font.family = FONT;

const toPts = (hours, vals) => vals.map((v, i) => ({x: hours[i], y: v}));

const datasets = [];
memberTemp.forEach((row, i) => {
  datasets.push({label: memberNames[i], data: toPts(memberHours, row), yAxisID: 'y',
    borderColor: memberColors[i], borderWidth: 1, order: 10});
});
memberPrecip.forEach((row, i) => {
  datasets.push({label: memberNames[i] + ' precip', data: toPts(memberHours, row), yAxisID: 'y2',
    borderColor: memberColors[i], borderWidth: 1, order: 10});
});
datasets.push({label: '1981-2010 mean', data: toPts(mainHours, climTemp), yAxisID: 'y', borderColor: climColor, borderWidth: 3.5, order: 4});
datasets.push({label: 'Control', data: toPts(mainHours, controlTemp), yAxisID: 'y', borderColor: controlColor, borderWidth: 3, order: 3});
datasets.push({label: 'Oper', data: toPts(mainHours, operTemp), yAxisID: 'y', borderColor: operColor, borderWidth: 3, order: 2});
datasets.push({label: 'Ens. mean', data: toPts(mainHours, meanTemp), yAxisID: 'y', borderColor: meanColor, borderWidth: 3, order: 1});
datasets.push({label: 'Control precip', data: toPts(mainHours, controlPrecip), yAxisID: 'y2', borderColor: controlColor, borderWidth: 3, order: 3});
datasets.push({label: 'Oper precip', data: toPts(mainHours, operPrecip), yAxisID: 'y2', borderColor: operColor, borderWidth: 3, order: 2});
datasets.push({label: 'Ens. mean precip', data: toPts(mainHours, meanPrecip), yAxisID: 'y2', borderColor: meanColor, borderWidth: 3, order: 1});

const gridColor = '#5c5c5c';
const tickColor = '#dcdcdc';

const decor = {
  id: 'decor',
  afterDatasetsDraw(chart) {
    const {ctx, chartArea: a, scales} = chart;
    const x = scales.x, y = scales.y, y2 = scales.y2;
    ctx.save();
    // frame
    ctx.strokeStyle = '#e8e8e8';
    ctx.lineWidth = 1;
    ctx.strokeRect(a.left + 0.5, a.top + 0.5, a.right - a.left - 1, a.bottom - a.top - 1);
    // inner minor ticks of the precipitation axis
    ctx.beginPath();
    for (let v = 0; v <= 40; v++) {
      const py = Math.round(y2.getPixelForValue(v)) + 0.5;
      ctx.moveTo(a.right - 4, py);
      ctx.lineTo(a.right, py);
    }
    ctx.stroke();
    // orange marker lines
    ctx.strokeStyle = '#f27b30';
    ctx.lineWidth = 5;
    orangeLines.forEach(l => {
      ctx.beginPath();
      ctx.moveTo(x.getPixelForValue(l[0]), y.getPixelForValue(l[1]));
      ctx.lineTo(x.getPixelForValue(l[2]), y.getPixelForValue(l[3]));
      ctx.stroke();
    });
    // arrows
    arrows.forEach(ar => {
      const x0 = x.getPixelForValue(ar.from[0]), y0 = y.getPixelForValue(ar.from[1]);
      const x1 = x.getPixelForValue(ar.to[0]), y1 = y.getPixelForValue(ar.to[1]);
      const len = Math.hypot(x1 - x0, y1 - y0);
      const ux = (x1 - x0) / len, uy = (y1 - y0) / len;
      const headL = 29, headW = 17;
      const bx = x1 - ux * headL, by = y1 - uy * headL;
      ctx.strokeStyle = ar.color;
      ctx.fillStyle = ar.color;
      ctx.lineWidth = 9;
      ctx.lineCap = 'round';
      ctx.beginPath();
      ctx.moveTo(x0, y0);
      ctx.lineTo(bx + ux * 4, by + uy * 4);
      ctx.stroke();
      ctx.beginPath();
      ctx.moveTo(x1, y1);
      ctx.lineTo(bx - uy * headW, by + ux * headW);
      ctx.lineTo(bx + uy * headW, by - ux * headW);
      ctx.closePath();
      ctx.fill();
    });
    ctx.restore();
  },
  afterDraw(chart) {
    const {ctx, chartArea: a} = chart;
    const midY = (a.top + a.bottom) / 2;
    ctx.save();
    ctx.fillStyle = tickColor;
    ctx.font = '10px ' + FONT;
    ctx.textAlign = 'center';
    ctx.textBaseline = 'middle';
    ctx.fillText('Date (UTC)', (a.left + a.right) / 2, a.bottom + 29);
    ctx.translate(a.left - 32, midY);
    ctx.rotate(-Math.PI / 2);
    ctx.fillText('850 hPa Temp. (°C)', 0, 0);
    ctx.restore();
    ctx.save();
    ctx.fillStyle = tickColor;
    ctx.font = '10px ' + FONT;
    ctx.textAlign = 'center';
    ctx.textBaseline = 'middle';
    ctx.translate(a.right + 30, midY);
    ctx.rotate(-Math.PI / 2);
    ctx.fillText('Precipitation (mm)', 0, 0);
    ctx.restore();
  }
};

new Chart(document.getElementById('c'), {
  type: 'line',
  data: {datasets: datasets},
  options: {
    responsive: false,
    animation: false,
    devicePixelRatio: 1,
    layout: {padding: {left: 123, top: 30, right: 0, bottom: 0}, autoPadding: false},
    elements: {point: {radius: 0}, line: {tension: 0, borderJoinStyle: 'round'}},
    plugins: {legend: {display: false}, tooltip: {enabled: false}, title: {display: false}},
    scales: {
      x: {
        type: 'linear', min: 0, max: 360,
        afterFit: s => { s.height = 60; },
        ticks: {stepSize: 24, autoSkip: false, maxRotation: 0, padding: 6, color: tickColor, font: {size: 10},
          callback: v => xTickLabels[Math.round(v / 24)] || ''},
        grid: {color: gridColor, drawTicks: false, lineWidth: 1},
        border: {display: false, dash: [4, 3]}
      },
      y: {
        position: 'left', min: -20, max: 25,
        afterFit: s => { s.width = 40; },
        ticks: {stepSize: 5, padding: 10, color: tickColor, font: {size: 10}},
        grid: {color: gridColor, drawTicks: false, lineWidth: 1},
        border: {display: false, dash: [4, 3]}
      },
      y2: {
        position: 'right', min: 0, max: 40,
        afterFit: s => { s.width = 40; },
        ticks: {stepSize: 1, autoSkip: false, padding: 8, color: tickColor, font: {size: 10},
          callback: v => (v % 10 === 0 ? v : '')},
        grid: {drawOnChartArea: false, drawTicks: false},
        border: {display: false}
      }
    }
  },
  plugins: [decor]
});

// legend, two columns like the original figure
const legend = document.getElementById('legend');
function addLegend(text, color, lineX, lineW, textX, y, thick) {
  const sw = document.createElement('div');
  sw.className = 'sw';
  sw.style.cssText = `left:${lineX}px;top:${y - thick / 2}px;width:${lineW}px;height:${thick}px;background:${color}`;
  legend.appendChild(sw);
  const t = document.createElement('div');
  t.className = 'lg';
  t.textContent = text;
  t.style.left = textX + 'px';
  t.style.top = (y - 6) + 'px';
  legend.appendChild(t);
  return t;
}
memberNames.forEach((name, i) => {
  const col = i % 2, row = Math.floor(i / 2);
  const y = 39 + row * 15;
  if (col === 0) addLegend(name, memberColors[i], 0, 8, 8, y, 2);
  else addLegend(name, memberColors[i], 53, 10, 64, y, 2);
});
addLegend('Control', controlColor, 0, 8, 8, 415, 3);
addLegend('Ens. mean', meanColor, 53, 10, 64, 415, 3);
const clim = addLegend('1981-2010\nmean', climColor, 53, 10, 64, 443, 3);
clim.style.lineHeight = '10px';
clim.style.top = '437px';
addLegend('Oper', operColor, 0, 8, 8, 455, 3);
</script>
</body>
</html>
